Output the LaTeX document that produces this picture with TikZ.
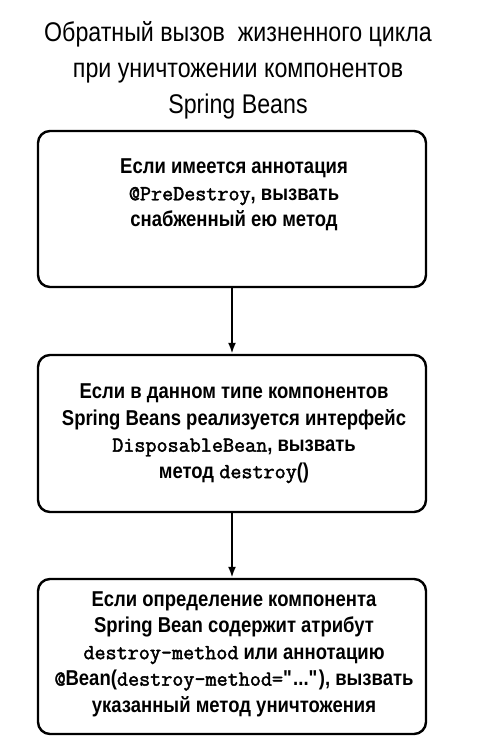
\documentclass[tikz,border=0pt]{standalone}
\usepackage{fontspec}
\setmainfont{Liberation Sans}[FakeStretch=0.86]
\newfontfamily\codefont{Latin Modern Mono}[FakeBold=2]
\usetikzlibrary{positioning,arrows.meta}
\def\boxwidth{388pt}
\newcommand{\code}[1]{{\codefont #1}}
\tikzset{
	stage/.style={draw,line width=2.4pt,rounded corners=12pt,minimum width=\boxwidth,inner sep=0pt},
	stagetext/.style={align=center,font=\fontsize{21.5}{26.5}\selectfont\bfseries},
	flow/.style={-{Latex[length=11pt,width=8pt]},line width=2.2pt}
}

\begin{document}
\begin{tikzpicture}[x=1pt,y=1pt]
	\useasboundingbox (0,0) rectangle (482,-756);

	\node[align=center,font=\fontsize{27}{36}\selectfont] (title) at (238,-70) {Обратный вызов~ жизненного цикла\\при уничтожении компонентов\\Spring Beans};

	\node[stage,minimum height=156pt] (predestroy) at (232,-209) {};
	\node[stagetext] (predestroytext) at (234,-195) {Если имеется аннотация\\\code{@PreDestroy}, вызвать\\снабженный ею метод};

	\node[stage,minimum height=157pt] (disposable) at (232,-433.5) {};
	\node[stagetext] (disposabletext) at (234,-433.5) {Если в данном типе компонентов\\Spring Beans реализуется интерфейс\\\code{DisposableBean}, вызвать\\метод \code{destroy}()};

	\node[stage,minimum height=155pt] (destroymethod) at (232,-656.5) {};
	\node[stagetext] (destroymethodtext) at (234,-654) {Если определение компонента\\Spring Bean содержит атрибут\\\code{destroy-method} или аннотацию\\\code{@}Bean(\code{destroy-method=}\textquotedbl...\textquotedbl), вызвать\\указанный метод уничтожения};

	\draw[flow] (predestroy) -- (disposable);
	\draw[flow] (disposable) -- (destroymethod);
\end{tikzpicture}
\end{document}
